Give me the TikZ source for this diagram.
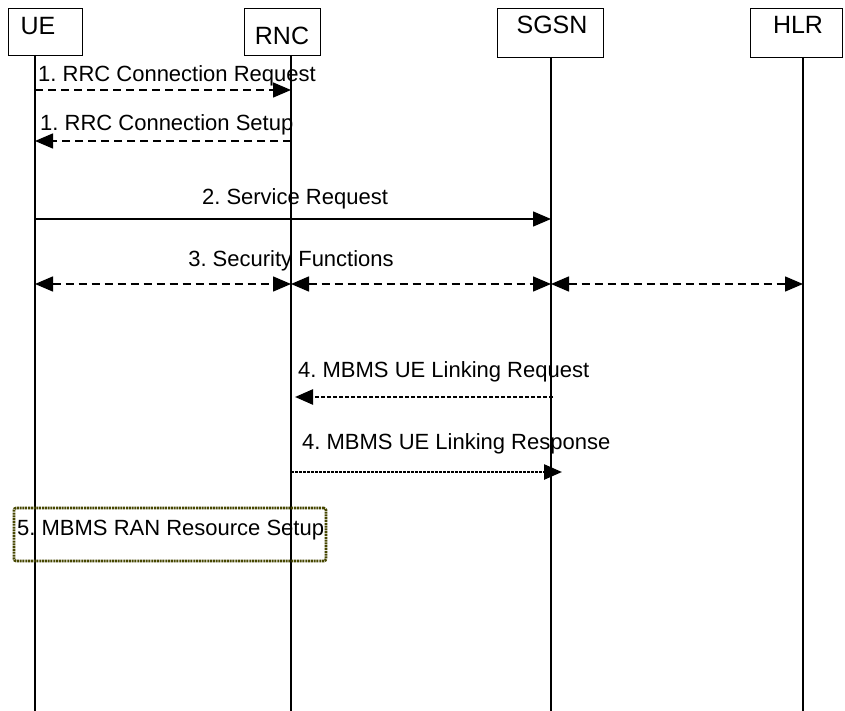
\documentclass[tikz,border=0pt]{standalone}
\usepackage{fontspec}
\setmainfont{Liberation Sans}
\usetikzlibrary{arrows.meta}
\definecolor{olivebox}{RGB}{70,70,0}
\begin{document}
\frenchspacing
\begin{tikzpicture}[x=1pt,y=-1pt,
  ent/.style={draw, line width=0.9pt, inner sep=0pt},
  lbl/.style={font=\fontsize{25}{30}\selectfont, inner sep=0pt},
  msg/.style={font=\fontsize{22}{26}\selectfont, inner sep=0pt},
  life/.style={line width=1.4pt},
  tip/.style={-{Triangle[length=18pt,width=15pt]}},
  bitip/.style={{Triangle[length=18pt,width=15pt]}-{Triangle[length=18pt,width=15pt]}},
  dsh/.style={line width=1.5pt, dash pattern=on 8pt off 5pt},
  dense/.style={line width=2.5pt, dash pattern=on 4.5pt off 1.5pt},
  dots/.style={line width=2.5pt, dash pattern=on 3pt off 1pt},
  procbox/.style={draw=olivebox, line width=2.6pt, dash pattern=on 2pt off 0.8pt, rounded corners=2pt, inner sep=0pt}
]
\useasboundingbox (0,0) rectangle (845,711);
\fill[white] (0,0) rectangle (845,711);

% entity boxes
\node[ent, minimum width=74pt, minimum height=47pt] (ue) at (45,31.5) {};
\node[ent, minimum width=76pt, minimum height=47pt] (rnc) at (282,31.5) {};
\node[ent, minimum width=106pt, minimum height=49pt] (sgsn) at (550,32.5) {};
\node[ent, minimum width=92pt, minimum height=49pt] (hlr) at (796,32.5) {};
\node[lbl] (uel) at (38,26) {UE};
\node[lbl] (rncl) at (282,36) {RNC};
\node[lbl] (sgsnl) at (552,25) {SGSN};
\node[lbl] (hlrl) at (798,25) {HLR};

% lifelines
\coordinate (uetop) at (35,55);   \coordinate (uebot) at (35,711);
\coordinate (rnctop) at (291,55); \coordinate (rncbot) at (291,711);
\coordinate (sgtop) at (551,57);  \coordinate (sgbot) at (551,711);
\coordinate (hltop) at (803,57);  \coordinate (hlbot) at (803,711);
\draw[life] (uetop) -- (uebot);
\draw[life] (rnctop) -- (rncbot);
\draw[life] (sgtop) -- (sgbot);
\draw[life] (hltop) -- (hlbot);

% 1. RRC Connection Request
\node[msg, anchor=base west] (m1) at (38,82) {1. RRC Connection Request};
\coordinate (a1s) at (35,90); \coordinate (a1e) at (291,90);
\draw[dsh, tip] (a1s) -- (a1e);

% 1. RRC Connection Setup
\node[msg, anchor=base west] (m2) at (40,131) {1. RRC Connection Setup};
\coordinate (a2s) at (291,141); \coordinate (a2e) at (35,141);
\draw[dsh, tip] (a2s) -- (a2e);

% 2. Service Request
\node[msg, anchor=base] (m3) at (295,205) {2. Service Request};
\coordinate (a3s) at (35,219); \coordinate (a3e) at (551,219);
\draw[line width=1.5pt, tip] (a3s) -- (a3e);

% 3. Security Functions
\node[msg, anchor=base] (m4) at (291,266) {3. Security Functions};
\coordinate (s1) at (35,284); \coordinate (s2) at (291,284);
\coordinate (s3) at (551,284); \coordinate (s4) at (803,284);
\draw[dsh, bitip] (s1) -- (s2);
\draw[dsh, bitip] (s2) -- (s3);
\draw[dsh, bitip] (s3) -- (s4);

% 4. MBMS UE Linking Request
\node[msg, anchor=base west] (m5) at (298,377) {4. MBMS UE Linking Request};
\coordinate (a5s) at (553,397); \coordinate (a5e) at (295,397);
\draw[dense, tip] (a5s) -- (a5e);

% 4. MBMS UE Linking Response
\node[msg, anchor=base west] (m6) at (302,449) {4. MBMS UE Linking Response};
\coordinate (a6s) at (291,472); \coordinate (a6e) at (562,472);
\draw[dots, tip] (a6s) -- (a6e);

% 5. MBMS RAN Resource Setup
\node[procbox, minimum width=312pt, minimum height=53pt] (p5) at (170,534.5) {};
\node[msg, anchor=base west] (p5l) at (17,535) {5. MBMS RAN Resource Setup};
\end{tikzpicture}
\end{document}
